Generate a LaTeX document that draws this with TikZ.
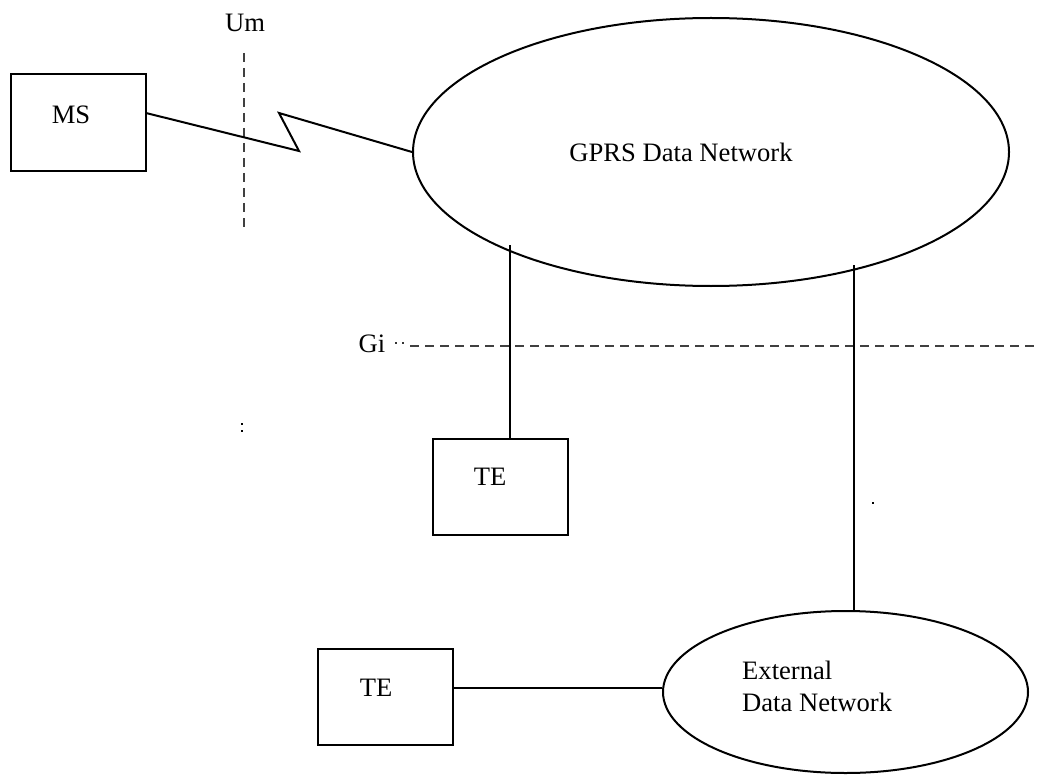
\documentclass[tikz,border=0pt]{standalone}
\usepackage{fontspec}
\setmainfont{Liberation Serif}
\usetikzlibrary{shapes.geometric}
\begin{document}
\begin{tikzpicture}[x=1pt,y=-1pt,
  boxnode/.style={draw,line width=2pt,rectangle,inner sep=0pt,minimum width=#1},
  ellnode/.style={draw,line width=2pt,ellipse,inner sep=0pt},
  lbl/.style={inner sep=0pt,font=\fontsize{26.6pt}{32pt}\selectfont},
  wire/.style={line width=2pt},
  ifline/.style={line width=1.3pt,dash pattern=on 9pt off 6pt,color=black!75}]
\useasboundingbox (0,0) rectangle (1038,778);
% boxes
\node[boxnode=135pt,minimum height=97pt] (MS) at (78.5,122.5) {};
\node[lbl] (MSt) at (71,115) {MS};
\node[boxnode=135pt,minimum height=96pt] (TE1) at (500.5,487) {};
\node[lbl] (TE1t) at (490,477) {TE};
\node[boxnode=135pt,minimum height=96pt] (TE2) at (385.5,697) {};
\node[lbl] (TE2t) at (376,688) {TE};
% ellipses
\node[ellnode,minimum width=596pt,minimum height=268pt] (GPRS) at (711,152) {};
\node[lbl] (GPRSt) at (681,152) {GPRS Data Network};
\node[ellnode,minimum width=365pt,minimum height=162pt] (EXT) at (845.5,692) {};
\node[lbl,anchor=west,align=left] (EXTt) at (742,686) {External\\Data Network};
% interface labels
\node[lbl] (Um) at (245,23) {Um};
\node[lbl] (Gi) at (372,344) {Gi};
% Um reference line
\coordinate (um1) at (244,53);
\coordinate (um2) at (244,230);
\draw[ifline] (um1) -- (um2);
% Gi reference line
\coordinate (gi1) at (410,346);
\coordinate (gi2) at (1038,346);
\draw[ifline] (gi1) -- (gi2);
\fill[black!80] (395,342) rectangle (397,344);
\fill[black!80] (402,342) rectangle (404,344);
% stray marks
\fill (241,423) rectangle (243,425);
\fill (241,430) rectangle (243,432);
\fill (872,502) rectangle (874,504);
% radio link
\coordinate (r0) at (146,113);
\coordinate (r1) at (299,151);
\coordinate (r2) at (279,113);
\draw[wire,line join=miter] (r0) -- (r1) -- (r2) -- (GPRS.west);
% wired links
\coordinate (c1) at (510,245);
\draw[wire] (c1) -- (c1 |- TE1.north);
\coordinate (c2) at (854,265);
\draw[wire] (c2) -- (c2 |- EXT.north);
\coordinate (c3) at (453,688);
\draw[wire] (c3) -- (c3 -| EXT.west);
\end{tikzpicture}
\end{document}
